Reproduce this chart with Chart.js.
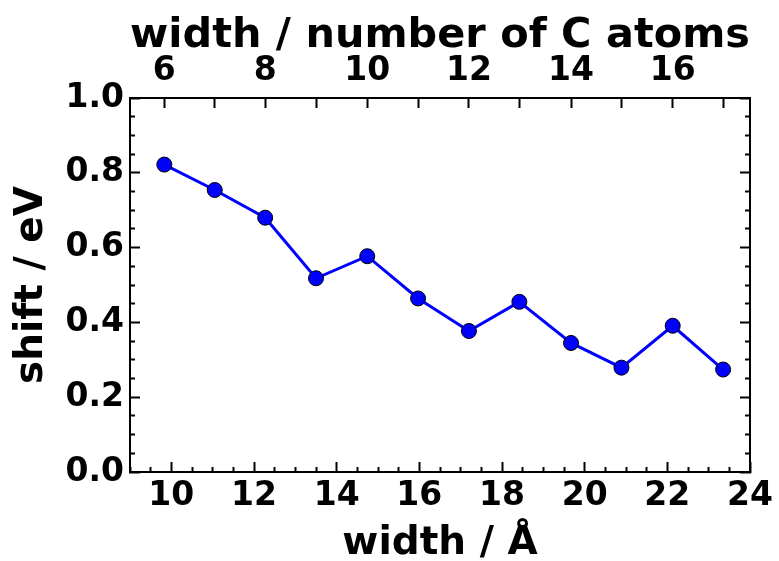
<!DOCTYPE html>
<html>
<head>
<meta charset="utf-8">
<script src="https://cdn.jsdelivr.net/npm/chart.js@4.4.1/dist/chart.umd.min.js"></script>
<style>
  html, body { margin: 0; padding: 0; background: #ffffff; }
  canvas { display: block; }
</style>
</head>
<body>
<canvas id="chart" width="779" height="561"></canvas>
<script>
// Ribbon widths (Å), carbon-atom counts across the ribbon, and energy shift (eV)
const atoms  = [6, 7, 8, 9, 10, 11, 12, 13, 14, 15, 16, 17];
const widths = [9.83, 11.05, 12.27, 13.50, 14.74, 15.97, 17.20, 18.42, 19.67, 20.89, 22.13, 23.35];
const shifts = [0.822, 0.754, 0.680, 0.518, 0.577, 0.464, 0.377, 0.455, 0.345, 0.279, 0.391, 0.274];

// Axis ranges and labelled ticks
const widthRange = [9, 24];
const widthMajor = [10, 12, 14, 16, 18, 20, 22, 24];
const shiftRange = [0, 1];
const shiftMajor = [0.0, 0.2, 0.4, 0.6, 0.8, 1.0];
const atomLabels = [6, 8, 10, 12, 14, 16];

const FONT = 'DejaVu Sans';
const tickFont = { family: FONT, size: 33, weight: 'bold' };
const titleFont = { family: FONT, size: 39, weight: 'bold', lineHeight: 1 };
const topTitleFont = { family: FONT, size: 41.5, weight: 'bold', lineHeight: 1 };

// minor ticks: 4 intervals between labelled ticks
function withMinor(major, range) {
  const step = (major[1] - major[0]) / 4;
  const out = [];
  const n = Math.round((range[1] - range[0]) / step);
  for (let i = 0; i <= n; i++) out.push(Math.round((range[0] + i * step) * 1000) / 1000);
  return out;
}
const isMajor = (v, major) => major.some(m => Math.abs(m - v) < 1e-6);

const xTicks = withMinor(widthMajor, widthRange);
const yTicks = withMinor(shiftMajor, shiftRange);

// fixed box sizes so the plot frame stays put regardless of label overhang
function fixBox(size, horizontal) {
  return s => {
    if (horizontal) s.height = size; else s.width = size;
    s.paddingLeft = s.paddingRight = s.paddingTop = s.paddingBottom = 0;
  };
}

new Chart(document.getElementById('chart'), {
  type: 'scatter',
  data: {
    datasets: [{
      data: widths.map((w, i) => ({ x: w, y: shifts[i] })),
      showLine: true,
      borderColor: '#0000ff',
      borderWidth: 3,
      pointRadius: 7.5,
      pointHoverRadius: 7.5,
      pointBackgroundColor: '#0000ff',
      pointBorderColor: '#000000',
      pointBorderWidth: 1,
      xAxisID: 'x',
      yAxisID: 'y'
    }]
  },
  options: {
    responsive: false,
    animation: false,
    devicePixelRatio: 1,
    layout: { padding: 0 },
    plugins: { legend: { display: false }, tooltip: { enabled: false } },
    scales: {
      x: {
        type: 'linear', position: 'bottom',
        min: widthRange[0], max: widthRange[1],
        afterBuildTicks: s => { s.ticks = xTicks.map(v => ({ value: v })); },
        afterFit: fixBox(89, true),
        ticks: {
          autoSkip: false, maxRotation: 0, padding: 15, color: '#000', font: tickFont,
          callback: v => isMajor(v, widthMajor) ? String(Math.round(v)) : ''
        },
        grid: {
          drawOnChartArea: false, tickLength: -10, tickColor: '#000', tickWidth: 2,
          tickBorderDash: c => isMajor(c.tick.value, widthMajor) ? [] : [6, 100]
        },
        border: { display: true, color: '#000', width: 2 },
        title: { display: true, text: 'width / Å', color: '#000', font: titleFont, padding: { bottom: -2, top: 0 } }
      },
      x2: {
        type: 'linear', position: 'top',
        min: widthRange[0], max: widthRange[1],
        afterBuildTicks: s => { s.ticks = widths.map(v => ({ value: v })); },
        afterFit: fixBox(98, true),
        ticks: {
          autoSkip: false, maxRotation: 0, padding: 17, color: '#000', font: tickFont,
          callback: (v, i) => atomLabels.includes(atoms[i]) ? String(atoms[i]) : ''
        },
        grid: { drawOnChartArea: false, tickLength: -10, tickColor: '#000', tickWidth: 2 },
        border: { display: true, color: '#000', width: 2 },
        title: { display: true, text: 'width / number of C atoms', color: '#000', font: topTitleFont, padding: { top: 15, bottom: 0 } }
      },
      y: {
        type: 'linear', position: 'left',
        min: shiftRange[0], max: shiftRange[1],
        afterBuildTicks: s => { s.ticks = yTicks.map(v => ({ value: v })); },
        afterFit: fixBox(130, false),
        ticks: {
          autoSkip: false, padding: 16, color: '#000', font: tickFont,
          callback: v => isMajor(v, shiftMajor) ? v.toFixed(1) : ''
        },
        grid: {
          drawOnChartArea: false, tickLength: -10, tickColor: '#000', tickWidth: 2,
          tickBorderDash: c => isMajor(c.tick.value, shiftMajor) ? [] : [0, 5, 6, 100]
        },
        border: { display: true, color: '#000', width: 2 },
        title: { display: true, text: 'shift / eV', color: '#000', font: titleFont, padding: { top: 12, bottom: 0 } }
      },
      y2: {
        type: 'linear', position: 'right',
        min: shiftRange[0], max: shiftRange[1],
        afterBuildTicks: s => { s.ticks = yTicks.map(v => ({ value: v })); },
        afterFit: fixBox(29, false),
        ticks: { autoSkip: false, display: false },
        grid: {
          drawOnChartArea: false, tickLength: -10, tickColor: '#000', tickWidth: 2,
          tickBorderDash: c => isMajor(c.tick.value, shiftMajor) ? [] : [6, 100]
        },
        border: { display: true, color: '#000', width: 2 }
      }
    }
  }
});
</script>
</body>
</html>
